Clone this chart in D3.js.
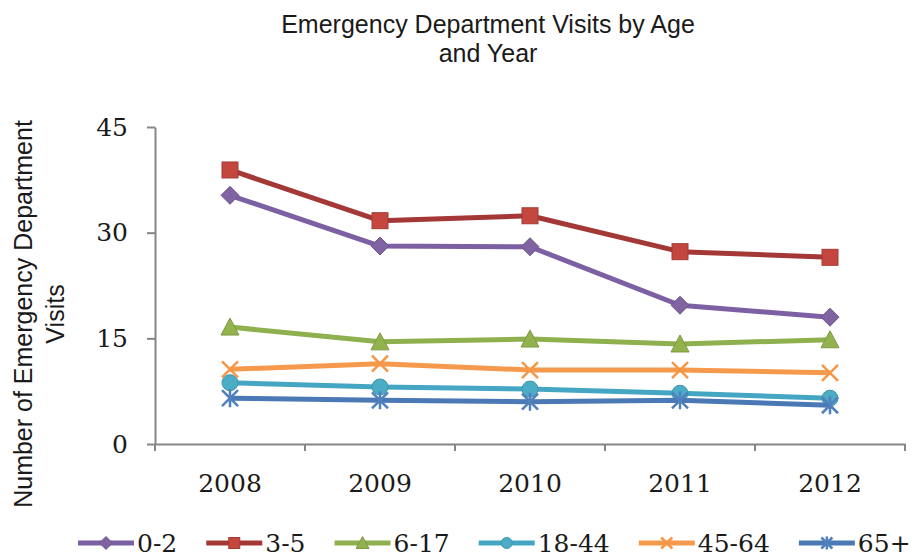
<!DOCTYPE html>
<html>
<head>
<meta charset="utf-8">
<script src="https://cdn.jsdelivr.net/npm/d3@7"></script>
<style>
  html, body { margin: 0; padding: 0; background: #ffffff; }
  svg { display: block; }
</style>
</head>
<body>
<svg id="chart" width="918" height="559"></svg>
<script>
// ---- data ----
const years = ["2008", "2009", "2010", "2011", "2012"];
const seriesNames = ["0-2", "3-5", "6-17", "18-44", "45-64", "65+"];
const values_0_2   = [35.3, 28.1, 28.0, 19.7, 18.0];
const values_3_5   = [38.9, 31.7, 32.4, 27.3, 26.5];
const values_6_17  = [16.6, 14.5, 14.9, 14.2, 14.8];
const values_18_44 = [8.7, 8.1, 7.8, 7.2, 6.5];
const values_45_64 = [10.6, 11.4, 10.5, 10.5, 10.1];
const values_65p   = [6.5, 6.2, 6.0, 6.2, 5.5];
const yTicks = [0, 15, 30, 45];
const titleLines = ["Emergency Department Visits by Age", "and Year"];
const yTitleLines = ["Number of Emergency Department", "Visits"];

const seriesValues = [values_0_2, values_3_5, values_6_17, values_18_44, values_45_64, values_65p];
const lineColors   = ["#7d5fa3", "#a33836", "#8fb04f", "#44a6c2", "#f59a4c", "#4a79b5"];
const markerColors = ["#8064a2", "#c4473f", "#92b24e", "#4bacc6", "#f79646", "#4f81bd"];
const markerTypes  = ["diamond", "square", "triangle", "circle", "x", "asterisk"];

const svg = d3.select("#chart");

const x = d3.scaleBand().domain(years).range([155, 905]);
const y = d3.scaleLinear().domain([0, 45]).range([444, 127]);

// ---- title ----
svg.append("text")
  .attr("x", 488).attr("y", 33)
  .attr("text-anchor", "middle")
  .style("font-family", "'Liberation Sans', Arial, sans-serif")
  .style("font-size", "25px").style("fill", "#1a1a1a")
  .selectAll("tspan").data(titleLines).join("tspan")
  .attr("x", 488).attr("dy", (d, i) => i === 0 ? 0 : 29)
  .text(d => d);

// ---- y title ----
const yt = svg.append("text")
  .attr("transform", "translate(0,314) rotate(-90)")
  .attr("text-anchor", "middle")
  .style("font-family", "'Liberation Sans', Arial, sans-serif")
  .style("font-size", "25px").style("fill", "#1a1a1a");
yt.selectAll("tspan").data(yTitleLines).join("tspan")
  .attr("x", 0).attr("y", (d, i) => i === 0 ? 32 : 64)
  .text(d => d);

// ---- axes ----
const axisColor = "#868686";
const yAxis = svg.append("g").attr("transform", "translate(155,0)")
  .call(d3.axisLeft(y).tickValues(yTicks).tickSizeInner(8).tickSizeOuter(0).tickPadding(19));
yAxis.select(".domain").attr("stroke", axisColor).attr("stroke-width", 2);
yAxis.selectAll(".tick line").attr("stroke", axisColor).attr("stroke-width", 2);
yAxis.selectAll(".tick text")
  .style("font-family", "'DejaVu Serif', serif").style("font-size", "25px").style("fill", "#1a1a1a");

const xAxis = svg.append("g").attr("transform", "translate(0,444)")
  .call(d3.axisBottom(x).tickSizeInner(0).tickSizeOuter(0).tickPadding(30));
xAxis.select(".domain").attr("stroke", axisColor).attr("stroke-width", 2);
xAxis.selectAll(".tick line").remove();
xAxis.selectAll(".tick text")
  .style("font-family", "'DejaVu Serif', serif").style("font-size", "25px").style("fill", "#1a1a1a");
// category boundary ticks
const bounds = years.map(d => x(d)).concat([x.range()[1]]);
xAxis.selectAll("line.bound").data(bounds).join("line")
  .attr("class", "bound")
  .attr("x1", d => d).attr("x2", d => d)
  .attr("y1", 0).attr("y2", 7)
  .attr("stroke", axisColor).attr("stroke-width", 2);

// ---- markers ----
function drawMarker(g, type, cx, cy, s, fill) {
  const h = s / 2;
  if (type === "diamond") {
    g.append("path").attr("d", `M${cx},${cy - h - 1}L${cx + h + 1},${cy}L${cx},${cy + h + 1}L${cx - h - 1},${cy}Z`)
      .attr("fill", fill).attr("stroke", d3.color(fill).darker(0.4)).attr("stroke-width", 1);
  } else if (type === "square") {
    g.append("rect").attr("x", cx - h).attr("y", cy - h).attr("width", s).attr("height", s)
      .attr("fill", fill).attr("stroke", d3.color(fill).darker(0.5)).attr("stroke-width", 1);
  } else if (type === "triangle") {
    g.append("path").attr("d", `M${cx},${cy - h - 1}L${cx + h + 1},${cy + h}L${cx - h - 1},${cy + h}Z`)
      .attr("fill", fill).attr("stroke", d3.color(fill).darker(0.4)).attr("stroke-width", 1);
  } else if (type === "circle") {
    g.append("circle").attr("cx", cx).attr("cy", cy).attr("r", h)
      .attr("fill", fill).attr("stroke", d3.color(fill).darker(0.4)).attr("stroke-width", 1);
  } else if (type === "x") {
    g.append("path").attr("d", `M${cx - h},${cy - h}L${cx + h},${cy + h}M${cx + h},${cy - h}L${cx - h},${cy + h}`)
      .attr("stroke", fill).attr("stroke-width", 2.5).attr("fill", "none");
  } else if (type === "asterisk") {
    g.append("path").attr("d", `M${cx - h},${cy - h}L${cx + h},${cy + h}M${cx + h},${cy - h}L${cx - h},${cy + h}M${cx},${cy - h - 1}L${cx},${cy + h + 1}`)
      .attr("stroke", fill).attr("stroke-width", 2.5).attr("fill", "none");
  }
}

const line = d3.line().x((d, i) => x(years[i]) + x.bandwidth() / 2).y(d => y(d));

seriesValues.forEach((vals, si) => {
  const g = svg.append("g");
  g.append("path").attr("d", line(vals))
    .attr("fill", "none").attr("stroke", lineColors[si]).attr("stroke-width", 5)
    .attr("stroke-linejoin", "round");
  vals.forEach((v, i) => {
    drawMarker(g, markerTypes[si], x(years[i]) + x.bandwidth() / 2, y(v), 16, markerColors[si]);
  });
});

// ---- legend ----
const legend = svg.append("g");
let lx = 78;
const ly = 543;
seriesNames.forEach((name, si) => {
  const g = legend.append("g");
  g.append("line").attr("x1", lx).attr("x2", lx + 56).attr("y1", ly).attr("y2", ly)
    .attr("stroke", lineColors[si]).attr("stroke-width", 5);
  drawMarker(g, markerTypes[si], lx + 28, ly, 11, markerColors[si]);
  const t = g.append("text").attr("x", lx + 59).attr("y", ly).attr("dy", "0.36em")
    .style("font-family", "'DejaVu Serif', serif").style("font-size", "25px").style("fill", "#1a1a1a")
    .text(name);
  lx = lx + 59 + t.node().getComputedTextLength() + 29;
});
</script>
</body>
</html>
